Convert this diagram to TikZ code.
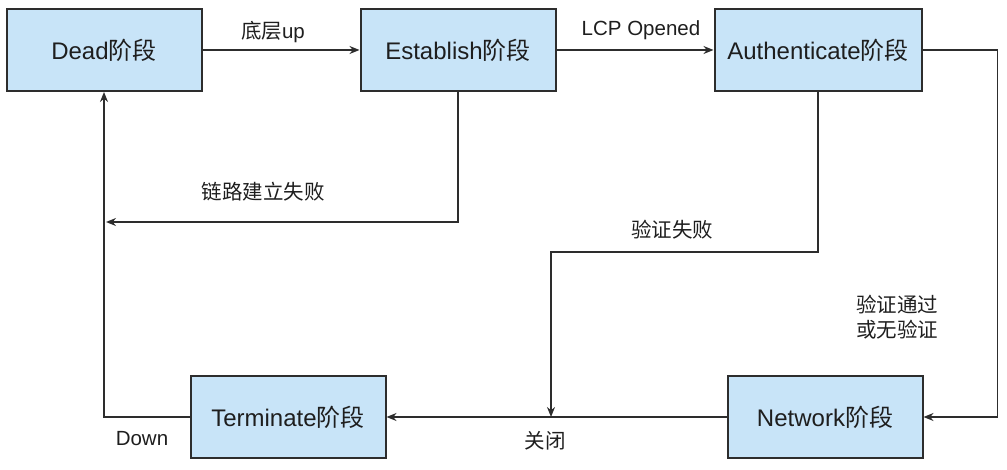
\documentclass[tikz,border=0pt]{standalone}
\usepackage{fontspec}
\setmainfont{Liberation Sans}
\newfontfamily\cjk{Noto Sans CJK SC}
\usetikzlibrary{arrows.meta}
\definecolor{boxfill}{RGB}{200,228,248}
\definecolor{boxline}{RGB}{45,45,45}
\definecolor{txt}{RGB}{30,30,30}
\newcommand{\zh}[1]{{\cjk #1}}

\begin{document}
\begin{tikzpicture}[x=1pt,y=-1pt,
    stage/.style={draw=boxline,fill=boxfill,line width=2pt,minimum width=195pt,minimum height=82pt,inner sep=0pt,text=txt,font=\fontsize{24}{28}\selectfont},
    lbl/.style={text=txt,inner sep=0pt,align=center,font=\fontsize{20.5}{25}\selectfont},
    line/.style={draw=boxline,line width=1.5pt,-{Stealth[length=10pt,width=8pt]}}]
          %\draw[help lines] (0,0) grid[step=50] (1007,470);
          \useasboundingbox (0,0) rectangle (1007,470);
          \node[stage] (dead) at (104,50) {Dead\zh{阶段}};
          \node[stage] (est) at (458,50) {Establish\zh{阶段}};
          \node[stage,minimum width=207pt] (auth) at (818,50) {Authenticate\zh{阶段}};
          \node[stage] (term) at (288,417) {Terminate\zh{阶段}};
          \node[stage] (net) at (825,417) {Network\zh{阶段}};
          \coordinate (failend) at (106,222);
          \coordinate (afbend) at (551,252);
          \draw[line] (dead) -- (est);
          \draw[line] (est) -- (auth);
          \draw[line] (auth.east) -- ++(75,0) |- (net.east);
          \draw[line] (est.south) |- (failend);
          \draw[line] (auth.south) |- (afbend) -- (afbend |- net.west);
          \draw[line] (net) -- (term);
          \draw[line] (term.west) -| (dead.south);
          \node[lbl] (up) at (273,32) {\zh{底层}up};
          \node[lbl] (lcp) at (641,30) {LCP Opened};
          \node[lbl] (estfail) at (263,192) {\zh{链路建立失败}};
          \node[lbl] (authfail) at (672,230) {\zh{验证失败}};
          \node[lbl] (authok) at (897,317) {\zh{验证通过}\\\zh{或无验证}};
          \node[lbl] (close) at (545,441) {\zh{关闭}};
          \node[lbl] (down) at (142,439) {Down};
\end{tikzpicture}
\end{document}
